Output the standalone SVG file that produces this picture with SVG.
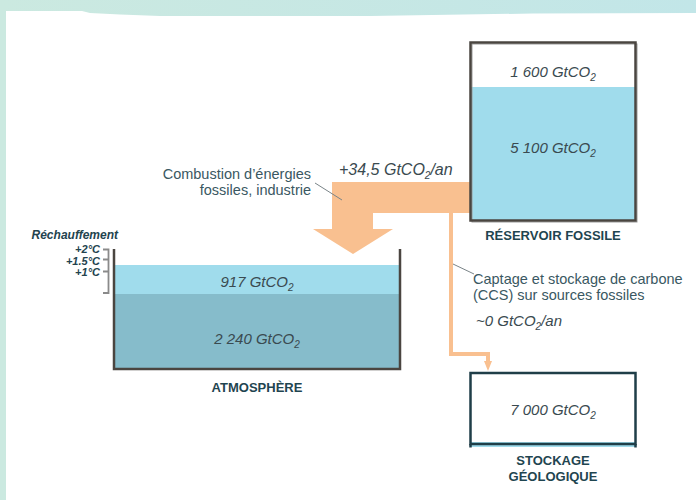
<svg xmlns="http://www.w3.org/2000/svg" width="696" height="500" viewBox="0 0 696 500">
<defs>
<linearGradient id="bg" x1="0" y1="0" x2="1" y2="0">
<stop offset="0" stop-color="#cbe9e0"/>
<stop offset="1" stop-color="#c2e6e8"/>
</linearGradient>
<marker id="ah" markerWidth="10" markerHeight="8" refX="0" refY="4" orient="auto" markerUnits="userSpaceOnUse">
<path d="M0,0 L10,4 L0,8 Z" fill="#f9c090"/>
</marker>
</defs>
<style>
.lbl{font-family:"Liberation Sans",Arial,sans-serif;font-size:14.5px;fill:#3a5862}
.val{font-family:"Liberation Sans",Arial,sans-serif;font-size:15px;font-style:italic;fill:#3a4a50}
.ttl{font-family:"Liberation Sans",Arial,sans-serif;font-size:13px;font-weight:bold;fill:#1f4550;text-anchor:middle}
.wrm{font-family:"Liberation Sans",Arial,sans-serif;font-size:11px;font-weight:bold;font-style:italic;fill:#23434e;text-anchor:end}
.sub{font-size:10px}
.flow{fill:#f9c090}
.lead{stroke:#7a8488;stroke-width:1;fill:none}
</style>
<rect x="0" y="0" width="696" height="500" fill="url(#bg)"/>
<path d="M6,500 L6,11 L82,11 L90,13 L120,14.5 L160,16 L370,16 L533,13.5 L696,13 L696,500 Z" fill="#ffffff"/>

<g id="connectors">
<path class="flow" d="M332,182 L470,182 L470,213 L373,213 L373,229 L393,229 L353,254 L313,229 L332,229 Z"/>
<path d="M451,213 L451,354 L488,354 L488,361" stroke="#f9c090" stroke-width="4" fill="none" marker-end="url(#ah)"/>
<line class="lead" x1="315" y1="183" x2="342" y2="200"/>
<line class="lead" x1="453" y1="264" x2="474" y2="274"/>
</g>

<g id="reservoir">
<rect x="471" y="87" width="164" height="133" fill="#a0dcec"/>
<rect x="472" y="44" width="165" height="178" fill="none" stroke="#9a9a9a" stroke-width="1"/>
<rect x="470.5" y="42.5" width="165" height="178" fill="none" stroke="#4a4540" stroke-width="2.5"/>
<text class="val" x="553" y="77" text-anchor="middle">1 600 GtCO<tspan class="sub" dy="4">2</tspan></text>
<text class="val" x="553" y="153" text-anchor="middle">5 100 GtCO<tspan class="sub" dy="4">2</tspan></text>
<text class="ttl" x="553" y="240">RÉSERVOIR FOSSILE</text>
</g>

<g id="atmosphere">
<rect x="114" y="265" width="286" height="29" fill="#a0dcec"/>
<rect x="114" y="294" width="286" height="75" fill="#86bccb"/>
<path d="M114,249 L114,369 L400,369 L400,249" fill="none" stroke="#4a4540" stroke-width="2.5"/>
<text class="val" x="257" y="287" text-anchor="middle">917 GtCO<tspan class="sub" dy="4">2</tspan></text>
<text class="val" x="257" y="344" text-anchor="middle">2 240 GtCO<tspan class="sub" dy="4">2</tspan></text>
<text class="ttl" x="257" y="392">ATMOSPHÈRE</text>
</g>

<g id="warming">
<path d="M103,249.5 L108.5,249.5 L108.5,293 L103,293 M103,259.5 L108.5,259.5 M103,271.5 L108.5,271.5" fill="none" stroke="#8a8a8a" stroke-width="1.8"/>
<text class="wrm" x="118" y="239" style="font-size:12px">Réchauffement</text>
<text class="wrm" x="100" y="253">+2°C</text>
<text class="wrm" x="100" y="264.5">+1.5°C</text>
<text class="wrm" x="100" y="276">+1°C</text>
</g>

<g id="combustion-label">
<text class="lbl" x="311" y="179" text-anchor="end">Combustion d’énergies</text>
<text class="lbl" x="311" y="195" text-anchor="end">fossiles, industrie</text>
<text class="val" x="339" y="175" style="font-size:16px">+34,5 GtCO<tspan class="sub" dy="4">2</tspan><tspan dy="-4">/an</tspan></text>
</g>

<g id="ccs-label">
<text class="lbl" x="473" y="284">Captage et stockage de carbone</text>
<text class="lbl" x="473" y="300">(CCS) sur sources fossiles</text>
<text class="val" x="476" y="326">~0 GtCO<tspan class="sub" dy="4">2</tspan><tspan dy="-4">/an</tspan></text>
</g>

<g id="stockage">
<rect x="471" y="442" width="164" height="5" fill="#a0dcec"/>
<rect x="470.5" y="373" width="165" height="71" fill="none" stroke="#1f3e48" stroke-width="2.5"/>
<line x1="470.5" y1="444" x2="470.5" y2="447.5" stroke="#1f3e48" stroke-width="2.5"/>
<line x1="635.5" y1="444" x2="635.5" y2="447.5" stroke="#1f3e48" stroke-width="2.5"/>
<text class="val" x="553" y="415" text-anchor="middle">7 000 GtCO<tspan class="sub" dy="4">2</tspan></text>
<text class="ttl" x="553" y="465">STOCKAGE</text>
<text class="ttl" x="553" y="481">GÉOLOGIQUE</text>
</g>
</svg>
